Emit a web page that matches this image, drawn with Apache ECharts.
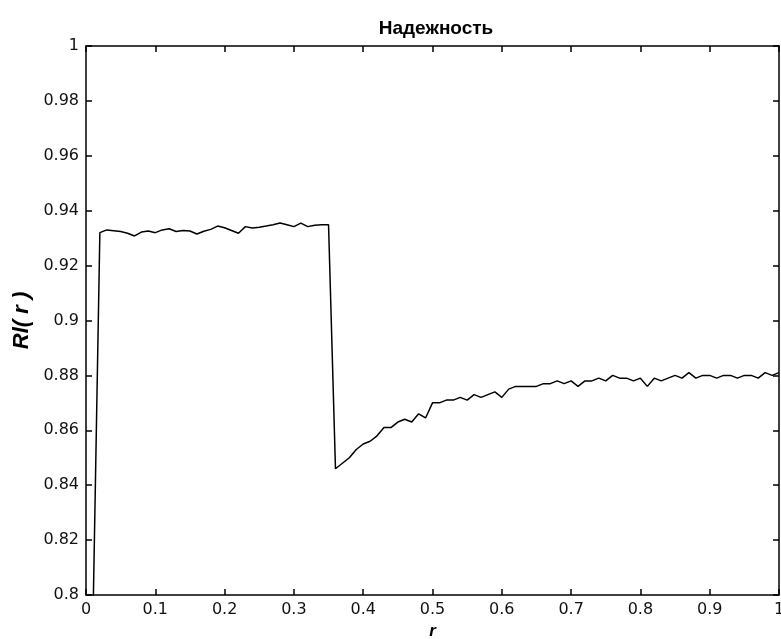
<!DOCTYPE html>
<html>
<head>
<meta charset="utf-8">
<script src="https://cdn.jsdelivr.net/npm/echarts@6/dist/echarts.min.js"></script>
<style>
    html, body { margin: 0; padding: 0; background: #fff; }
    #myChart { width: 781px; height: 639px; }
</style>
</head>
<body>
<div id="myChart"></div>
<script>
    // r values
    var rValues = [
        0.00, 0.01, 0.02, 0.03, 0.04, 0.05, 0.06, 0.07, 0.08, 0.09,
        0.10, 0.11, 0.12, 0.13, 0.14, 0.15, 0.16, 0.17, 0.18, 0.19,
        0.20, 0.21, 0.22, 0.23, 0.24, 0.25, 0.26, 0.27, 0.28, 0.29,
        0.30, 0.31, 0.32, 0.33, 0.34, 0.35, 0.36, 0.37, 0.38, 0.39,
        0.40, 0.41, 0.42, 0.43, 0.44, 0.45, 0.46, 0.47, 0.48, 0.49,
        0.50, 0.51, 0.52, 0.53, 0.54, 0.55, 0.56, 0.57, 0.58, 0.59,
        0.60, 0.61, 0.62, 0.63, 0.64, 0.65, 0.66, 0.67, 0.68, 0.69,
        0.70, 0.71, 0.72, 0.73, 0.74, 0.75, 0.76, 0.77, 0.78, 0.79,
        0.80, 0.81, 0.82, 0.83, 0.84, 0.85, 0.86, 0.87, 0.88, 0.89,
        0.90, 0.91, 0.92, 0.93, 0.94, 0.95, 0.96, 0.97, 0.98, 0.99,
        1.00
    ];
    // надежность Rl(r)
    var rlValues = [
        0.500, 0.790, 0.9320, 0.9330, 0.9327, 0.9324, 0.9318, 0.9308, 0.9322, 0.9326,
        0.9320, 0.9330, 0.9334, 0.9324, 0.9328, 0.9326, 0.9315, 0.9325, 0.9332, 0.9344,
        0.9338, 0.9328, 0.9318, 0.9342, 0.9337, 0.9340, 0.9344, 0.9349, 0.9355, 0.9349,
        0.9342, 0.9355, 0.9342, 0.9347, 0.9349, 0.9349, 0.8460, 0.8480, 0.8500, 0.8530,
        0.8550, 0.8560, 0.8580, 0.8610, 0.8610, 0.8630, 0.8640, 0.8630, 0.8660, 0.8645,
        0.8700, 0.8700, 0.8710, 0.8710, 0.8720, 0.8710, 0.8730, 0.8720, 0.8730, 0.8740,
        0.8720, 0.8750, 0.8760, 0.8760, 0.8760, 0.8760, 0.8770, 0.8770, 0.8780, 0.8770,
        0.8780, 0.8760, 0.8780, 0.8780, 0.8790, 0.8780, 0.8800, 0.8790, 0.8790, 0.8780,
        0.8790, 0.8760, 0.8790, 0.8780, 0.8790, 0.8800, 0.8790, 0.8810, 0.8790, 0.8800,
        0.8800, 0.8790, 0.8800, 0.8800, 0.8790, 0.8800, 0.8800, 0.8790, 0.8810, 0.8800,
        0.8810
    ];

    var lineData = rValues.map(function (r, i) { return [r, rlValues[i]]; });

    var font = 'Liberation Sans, Arial, sans-serif';
    var tickFont = 'DejaVu Sans, sans-serif';
    var axisLine = { show: true, onZero: false, lineStyle: { color: '#000', width: 1.5 } };
    var tick = { show: true, inside: true, length: 6, lineStyle: { color: '#000', width: 1.5 } };
    var labelStyle = { color: '#111', fontFamily: tickFont, fontSize: 16, margin: 7 };

    var myChart = echarts.init(document.getElementById('myChart'));
    myChart.setOption({
        animation: false,
        backgroundColor: '#fff',
        title: {
            text: 'Надежность',
            left: 431,
            textAlign: 'center',
            top: 14,
            textStyle: { color: '#000', fontFamily: font, fontSize: 19, fontWeight: 'bold' }
        },
        grid: { left: 86, right: 2, top: 46, bottom: 44, outerBoundsMode: 'none' },
        xAxis: [{
            type: 'value',
            min: 0, max: 1, interval: 0.1,
            name: 'r',
            nameLocation: 'middle',
            nameGap: 23,
            nameTextStyle: { color: '#000', fontFamily: font, fontSize: 17, fontStyle: 'italic', fontWeight: 'bold' },
            axisLine: axisLine,
            axisTick: tick,
            axisLabel: labelStyle,
            splitLine: { show: false }
        }, {
            type: 'value', position: 'top',
            min: 0, max: 1, interval: 0.1,
            axisLine: axisLine,
            axisTick: tick,
            axisLabel: { show: false },
            splitLine: { show: false }
        }],
        yAxis: [{
            type: 'value',
            min: 0.8, max: 1, interval: 0.02,
            name: 'Rl( r )',
            nameLocation: 'middle',
            nameGap: 52,
            nameTextStyle: { color: '#000', fontFamily: font, fontSize: 22, fontStyle: 'italic', fontWeight: 'bold' },
            axisLine: axisLine,
            axisTick: tick,
            axisLabel: labelStyle,
            splitLine: { show: false }
        }, {
            type: 'value', position: 'right',
            min: 0.8, max: 1, interval: 0.02,
            axisLine: axisLine,
            axisTick: tick,
            axisLabel: { show: false },
            splitLine: { show: false }
        }],
        series: [{
            name: 'Rl(r)',
            type: 'line',
            data: lineData,
            showSymbol: false,
            clip: true,
            lineStyle: { color: '#000', width: 1.5 }
        }]
    });
</script>
</body>
</html>
